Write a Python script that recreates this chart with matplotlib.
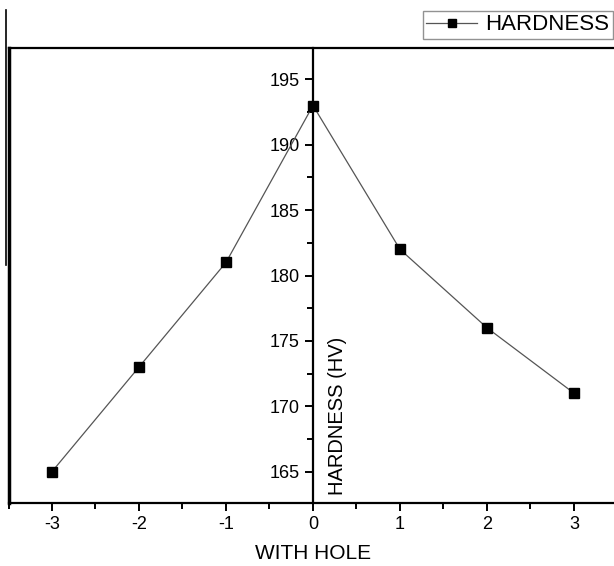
import matplotlib
matplotlib.use("Agg")
import matplotlib.pyplot as plt
from matplotlib.ticker import MultipleLocator

plt.rcParams['font.family'] = ['Liberation Sans', 'DejaVu Sans']
plt.rcParams['axes.unicode_minus'] = False

position = [-3, -2, -1, 0, 1, 2, 3]
hardness = [165, 173, 181, 193, 182, 176, 171]

fig = plt.figure(figsize=(6.14, 5.66), dpi=100)
ax = fig.add_axes([8.5 / 614, 1 - 503 / 566, (617.5 - 8.5) / 614, (503 - 48) / 566])

ax.plot(position, hardness, color='#555555', lw=0.9, marker='s', ms=7,
        mfc='black', mec='black', label='HARDNESS')

ax.set_xlim(-3.5, 3.5)
ax.set_ylim(162.6, 197.4)

# y axis sits on x=0, frame drawn by hand on the left
ax.spines['left'].set_position(('data', 0))
for s in ax.spines.values():
    s.set_linewidth(1.6)
ax.plot([0, 0], [0, 1], transform=ax.transAxes, color='black', lw=2.5, clip_on=False)

ax.xaxis.set_major_locator(MultipleLocator(1))
ax.xaxis.set_minor_locator(MultipleLocator(0.5))
ax.yaxis.set_major_locator(MultipleLocator(5))
ax.yaxis.set_minor_locator(MultipleLocator(2.5))
ax.tick_params(which='both', direction='out', width=1.4, labelsize=13)
ax.tick_params(which='major', length=6)
ax.tick_params(which='minor', length=4)

ax.set_xlabel('WITH HOLE', fontsize=15, labelpad=8)
ax.text(0.17, 163.2, 'HARDNESS (HV)', rotation=90, fontsize=14.5,
        ha='left', va='bottom')

leg = fig.legend(loc='upper left', bbox_to_anchor=(423 / 614, 1 - 11 / 566),
                 borderaxespad=0, fontsize=16, frameon=True, fancybox=False,
                 handlelength=2.3, handletextpad=0.35, borderpad=0.15,
                 markerscale=0.9)
leg.get_frame().set_edgecolor('#777777')

# stray line at the left edge of the reference crop
fig.add_artist(plt.Line2D([6 / 614, 6 / 614], [1 - 10 / 566, 1 - 265 / 566],
                          color='black', lw=1.2))

fig.savefig('out.png', dpi=100)
